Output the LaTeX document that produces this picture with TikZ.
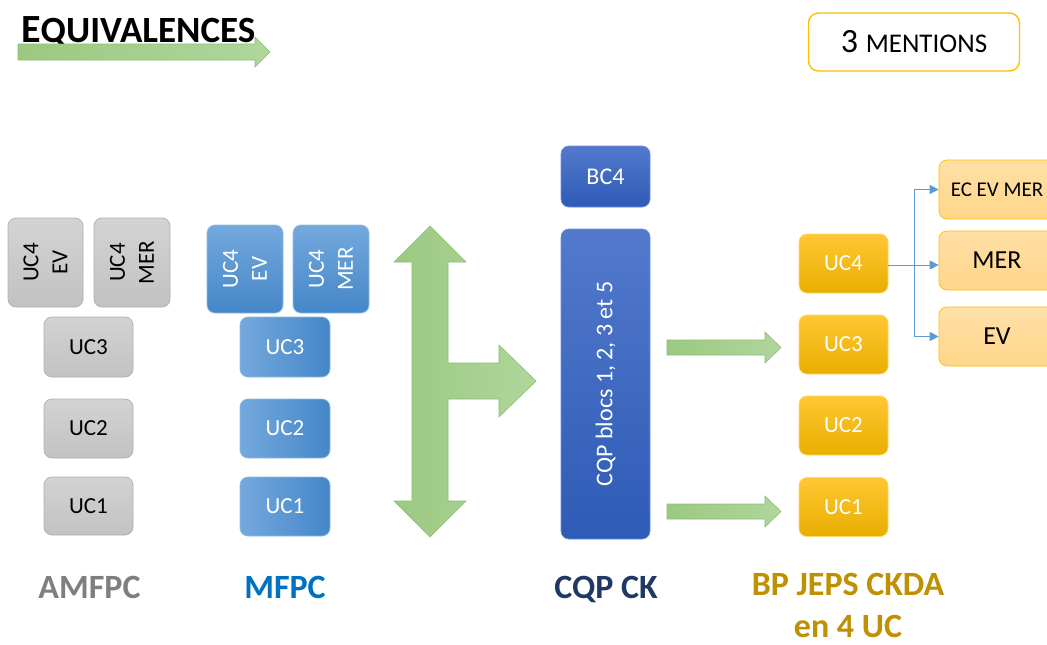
\documentclass[tikz,border=0pt]{standalone}
\usepackage{fontspec}
\setmainfont{Carlito}
\usetikzlibrary{arrows.meta}
\definecolor{grayfillA}{HTML}{D3D3D3}
\definecolor{grayfillB}{HTML}{C2C2C2}
\definecolor{grayline}{HTML}{B0B0B0}
\definecolor{blueA}{HTML}{74A9DD}
\definecolor{blueB}{HTML}{4486C8}
\definecolor{blueline}{HTML}{8DBBE6}
\definecolor{dblueA}{HTML}{5279CC}
\definecolor{dblueB}{HTML}{2E5BB6}
\definecolor{dblueline}{HTML}{6E8FD6}
\definecolor{orA}{HTML}{FFC733}
\definecolor{orB}{HTML}{E9AE00}
\definecolor{orline}{HTML}{FFD966}
\definecolor{loA}{HTML}{FFE0A6}
\definecolor{loB}{HTML}{FFD68A}
\definecolor{loline}{HTML}{FFC000}
\definecolor{grA}{HTML}{9BC981}
\definecolor{grB}{HTML}{B0D69C}
\definecolor{grline}{HTML}{8CBF6F}
\definecolor{conblue}{HTML}{5B9BD5}
\definecolor{labgray}{HTML}{7F7F7F}
\definecolor{labblue}{HTML}{0070C0}
\definecolor{labnavy}{HTML}{1F3864}
\definecolor{labgold}{HTML}{BF9000}
\begin{document}
\begin{tikzpicture}[x=1pt,y=-1pt,
  box/.style={rounded corners=8pt, inner sep=0pt, align=center, line width=0.7pt,
    font=\fontsize{23}{29}\selectfont},
  gbox/.style={box, draw=grayline, top color=grayfillA, bottom color=grayfillB, text=black},
  bbox/.style={box, draw=blueline, left color=blueA, right color=blueB, text=white},
  bboxr/.style={box, draw=blueline, top color=blueA, bottom color=blueB, text=white, rotate=90},
  gboxr/.style={gbox, rotate=90},
  dbox/.style={box, draw=dblueline, top color=dblueA, bottom color=dblueB, text=white,
    font=\fontsize{24}{29}\selectfont},
  obox/.style={box, draw=orline, top color=orA, bottom color=orB, text=white,
    minimum width=89pt, minimum height=59pt},
  lobox/.style={box, draw=loline, top color=loA, bottom color=loB, text=black,
    minimum width=116pt, minimum height=59pt},
  garrow/.style={draw=grline, line width=0.6pt, left color=grA, right color=grB},
  con/.style={draw=conblue, line width=1pt, -{Triangle[length=9pt,width=9pt]}},
  lab/.style={font=\fontsize{34}{42}\selectfont\bfseries, anchor=base, align=center}
]
\clip (0,0) rectangle (1047,645);
\fill[white] (0,0) rectangle (1047,645);

% title
\node[anchor=base west, inner sep=0pt, font=\bfseries] (title) at (21,42)
  {{\fontsize{40}{44}\selectfont E}{\fontsize{37}{40}\selectfont QUIVALENCES}};
\draw[garrow] (18,44) -- (255,44) -- (255,37) -- (270,52) -- (255,67) -- (255,60) -- (18,60) -- cycle;

% 3 mentions
\node[draw=loline, line width=1.4pt, rounded corners=10pt, fill=white,
  minimum width=211pt, minimum height=58pt, inner sep=0pt] (ment) at (914,42)
  {{\fontsize{34}{36}\selectfont 3 }{\fontsize{27}{30}\selectfont MENTIONS}};

% AMFPC
\node[gboxr, minimum width=89pt, minimum height=75pt] (a4ev) at (45.5,262.5) {UC4\\EV};
\node[gboxr, minimum width=89pt, minimum height=76pt] (a4mer) at (132,262.5) {UC4\\MER};
\node[gbox, minimum width=89pt, minimum height=60pt] (a3) at (88.5,347) {UC3};
\node[gbox, minimum width=89pt, minimum height=59pt] (a2) at (88.5,428.5) {UC2};
\node[gbox, minimum width=89pt, minimum height=58pt] (a1) at (88.5,506) {UC1};

% MFPC
\node[bboxr, minimum width=88pt, minimum height=76pt] (m4ev) at (245,269) {UC4\\EV};
\node[bboxr, minimum width=88pt, minimum height=76pt] (m4mer) at (331,269) {UC4\\MER};
\node[bbox, minimum width=90pt, minimum height=60pt] (m3) at (285,347) {UC3};
\node[bbox, minimum width=90pt, minimum height=59pt] (m2) at (285,428.5) {UC2};
\node[bbox, minimum width=90pt, minimum height=59pt] (m1) at (285,506.5) {UC1};

% big green arrow
\draw[garrow] (430,226) -- (466,262) -- (448,262) -- (448,363) -- (499,363) -- (499,345)
  -- (536,381) -- (499,417) -- (499,399) -- (448,399) -- (448,501) -- (466,501)
  -- (430,537) -- (394,501) -- (412,501) -- (412,262) -- (394,262) -- cycle;

% CQP
\node[dbox, minimum width=89pt, minimum height=61pt] (bc4) at (605.5,176.5) {BC4};
\node[dbox, minimum width=310pt, minimum height=89pt, rotate=90] (cqp) at (605.5,384)
  {CQP blocs 1, 2, 3 et 5};

% small green arrows
\draw[garrow] (667,340) -- (765,340) -- (765,332) -- (781,347.5) -- (765,363) -- (765,355) -- (667,355) -- cycle;
\draw[garrow] (667,504) -- (765,504) -- (765,496) -- (781,511.5) -- (765,527) -- (765,519) -- (667,519) -- cycle;

% BP JEPS
\node[obox] (o4) at (843.5,263.5) {UC4};
\node[obox] (o3) at (843.5,344.5) {UC3};
\node[obox] (o2) at (843.5,425.5) {UC2};
\node[obox] (o1) at (843.5,507) {UC1};

% mentions
\node[lobox, font=\fontsize{21}{25}\selectfont] (ecev) at (997,189.5) {EC EV MER};
\node[lobox, font=\fontsize{26}{30}\selectfont] (mer) at (997,260.5) {MER};
\node[lobox, font=\fontsize{26}{30}\selectfont] (ev) at (997,336.5) {EV};

% connectors
\coordinate (j) at (914,265);
\draw[con] (o4.east |- j) -- (mer.west |- j);
\draw[con] (j) |- (ecev.west);
\draw[con] (j) |- (ev.west);

% labels
\node[lab, text=labgray] (lamfpc) at (89.5,598) {AMFPC};
\node[lab, text=labblue] (lmfpc) at (285,598) {MFPC};
\node[lab, text=labnavy] (lcqp) at (606,598) {CQP CK};
\node[lab, text=labgold] (lbp) at (848,637) {BP JEPS CKDA\\en 4 UC};
\end{tikzpicture}
\end{document}
